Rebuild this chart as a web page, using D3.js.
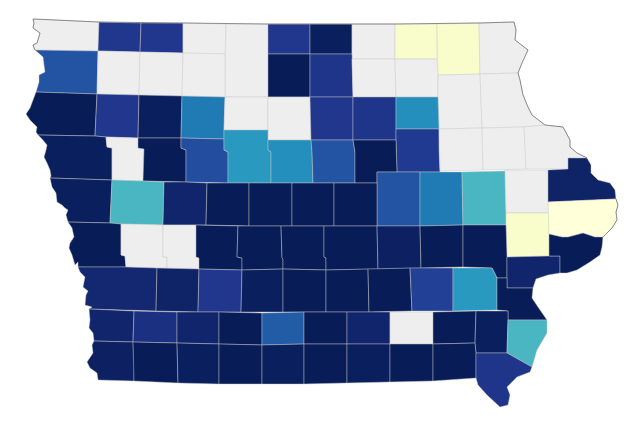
<!DOCTYPE html>
<html>
<head>
<meta charset="utf-8">
<title>Iowa counties</title>
<script src="https://cdn.jsdelivr.net/npm/d3@7"></script>
<style>
  html, body { margin: 0; padding: 0; background: #fff; }
  svg { display: block; }
</style>
</head>
<body>
<svg id="map" width="640" height="428"></svg>
<script>
// County names, listed row by row from the north-west corner
var counties = [
  "Lyon", "Osceola", "Dickinson", "Emmet", "Kossuth", "Winnebago", "Worth", "Mitchell", "Howard", "Winneshiek", "Allamakee",
  "Sioux", "O'Brien", "Clay", "Palo Alto", "Hancock", "Cerro Gordo", "Floyd", "Chickasaw", "Fayette", "Clayton",
  "Plymouth", "Cherokee", "Buena Vista", "Pocahontas", "Humboldt", "Wright", "Franklin", "Butler", "Bremer", "Black Hawk", "Buchanan", "Delaware", "Dubuque",
  "Woodbury", "Ida", "Sac", "Calhoun", "Webster", "Hamilton", "Hardin", "Grundy", "Tama", "Benton", "Linn", "Jones", "Jackson",
  "Monona", "Crawford", "Carroll", "Greene", "Boone", "Story", "Marshall", "Cedar", "Clinton",
  "Harrison", "Shelby", "Audubon", "Guthrie", "Dallas", "Polk", "Jasper", "Poweshiek", "Iowa", "Johnson", "Muscatine", "Scott",
  "Pottawattamie", "Cass", "Adair", "Madison", "Warren", "Marion", "Mahaska", "Keokuk", "Washington", "Louisa",
  "Mills", "Montgomery", "Adams", "Union", "Clarke", "Lucas", "Monroe", "Wapello", "Jefferson", "Henry", "Des Moines",
  "Fremont", "Page", "Taylor", "Ringgold", "Decatur", "Wayne", "Appanoose", "Davis", "Van Buren", "Lee"
];

// Values, same order as counties (null = no data)
var values = [
  null, 84, 84, null, null, 84, 95, null, 4, 4, null,
  75, null, null, null, 97, 85, null, null, null, null,
  100, 84, 95, 65, null, null, 84, 85, 60, 83, null, null, null,
  95, null, 98, 77, 57, 60, 75, 97, 75, 65, 47, null, 93,
  95, 47, 92, 98, 97, 97, 97, 4, 0,
  96, null, null, 98, 98, 96, 96, 94, 98, 98, 92, 100,
  91, 93, 84, 95, 96, 98, 98, 81, 57, 96,
  92, 87, 92, 99, 73, 98, 92, null, 99, 95, 47,
  94, 96, 95, 96, 95, 96, 95, 96, 96, 85
];

// County outlines in map units
var shapes = {
  "Lyon": [[33,19],[99,22],[98,51],[35,50],[33,45],[37,43],[40,33],[33,28],[34,23]],
  "Osceola": [[99,22],[141,23],[140,52],[98,51]],
  "Dickinson": [[141,23],[183,23],[183,53],[140,52]],
  "Emmet": [[183,23],[226,24],[225,54],[183,53]],
  "Kossuth": [[226,24],[268,24],[268,97],[225,97]],
  "Winnebago": [[268,24],[310,24],[310,54],[268,54]],
  "Worth": [[310,24],[352,24],[352,54],[310,54]],
  "Mitchell": [[352,24],[395,24],[395,59],[352,59]],
  "Howard": [[395,24],[437,24],[437,59],[395,59]],
  "Winneshiek": [[437,24],[479,23],[480,74],[438,75]],
  "Allamakee": [[479,23],[514,22],[516,30],[515,40],[528,50],[522,63],[518,73],[480,74]],
  "Sioux": [[35,50],[98,51],[97,94],[36,92],[39,82],[39,75],[45,72],[44,65],[43,57]],
  "O'Brien": [[98,51],[140,52],[139,95],[97,94]],
  "Clay": [[140,52],[183,53],[182,96],[139,95]],
  "Palo Alto": [[183,53],[225,54],[225,97],[182,96]],
  "Hancock": [[268,54],[310,54],[310,97],[268,97]],
  "Cerro Gordo": [[310,54],[352,54],[353,97],[310,97]],
  "Floyd": [[352,59],[395,59],[396,97],[353,97]],
  "Chickasaw": [[395,59],[437,59],[438,75],[438,97],[396,97]],
  "Fayette": [[438,75],[480,74],[482,128],[439,129],[438,97]],
  "Clayton": [[480,74],[518,73],[520,80],[523,95],[528,107],[532,115],[545,125],[524,127],[482,128]],
  "Plymouth": [[36,92],[97,94],[95,136],[38,135],[36,132],[37,127],[30,120],[26,114],[30,108],[33,100]],
  "Cherokee": [[97,94],[139,95],[138,138],[106,137],[95,136]],
  "Buena Vista": [[139,95],[182,96],[181,138],[138,138]],
  "Pocahontas": [[182,96],[225,97],[224,130],[224,139],[181,138]],
  "Humboldt": [[225,97],[268,97],[268,130],[224,130]],
  "Wright": [[268,97],[310,97],[311,140],[268,140],[268,130]],
  "Franklin": [[310,97],[353,97],[353,140],[311,140]],
  "Butler": [[353,97],[396,97],[396,129],[396,140],[353,140]],
  "Bremer": [[396,97],[438,97],[439,129],[396,129]],
  "Black Hawk": [[396,129],[439,129],[439,150],[440,172],[397,172],[396,140]],
  "Buchanan": [[439,129],[482,128],[483,170],[440,171]],
  "Delaware": [[482,128],[524,127],[525,140],[526,169],[483,170]],
  "Dubuque": [[524,127],[545,125],[563,127],[570,140],[570,147],[577,153],[587,158],[568,158],[568,169],[526,169]],
  "Woodbury": [[38,135],[95,136],[106,137],[107,147],[112,148],[112,180],[50,178],[51,176],[50,170],[47,163],[44,157],[46,150],[47,145],[42,139]],
  "Ida": [[106,137],[138,138],[138,148],[144,149],[143,181],[112,180],[112,148],[107,147]],
  "Sac": [[138,138],[181,138],[181,148],[186,150],[186,182],[143,181],[144,149],[138,148]],
  "Calhoun": [[181,138],[224,139],[224,150],[228,152],[228,183],[186,182],[186,150],[181,148]],
  "Webster": [[224,130],[268,130],[268,140],[268,150],[271,152],[271,183],[228,183],[228,152],[224,150]],
  "Hamilton": [[268,140],[311,140],[312,152],[313,183],[271,183],[271,152],[268,150]],
  "Hardin": [[311,140],[353,140],[355,152],[355,183],[313,183],[312,152]],
  "Grundy": [[353,140],[396,140],[397,172],[377,172],[377,183],[355,183],[355,152]],
  "Tama": [[377,172],[420,172],[420,226],[377,226]],
  "Benton": [[420,172],[462,172],[463,225],[420,226]],
  "Linn": [[462,172],[505,171],[506,213],[506,225],[463,225]],
  "Jones": [[505,170],[548,170],[548,202],[549,213],[506,213]],
  "Jackson": [[548,170],[568,169],[568,158],[587,158],[591,165],[591,173],[598,180],[610,183],[615,190],[616,199],[548,202]],
  "Monona": [[50,178],[112,180],[110,223],[68,222],[66,215],[68,210],[65,208],[62,205],[57,202],[56,193],[52,187]],
  "Crawford": [[112,180],[143,181],[164,182],[163,225],[121,224],[110,223]],
  "Carroll": [[164,182],[186,182],[207,183],[206,225],[163,225]],
  "Greene": [[207,183],[249,183],[249,226],[206,225]],
  "Boone": [[249,183],[292,183],[292,226],[249,226]],
  "Story": [[292,183],[334,183],[334,226],[292,226]],
  "Marshall": [[334,183],[377,183],[377,226],[334,226]],
  "Cedar": [[506,213],[549,213],[549,234],[549,256],[507,257],[506,225]],
  "Clinton": [[548,202],[616,199],[618,205],[616,212],[617,220],[612,228],[603,237],[595,237],[583,233],[568,237],[562,237],[549,234]],
  "Harrison": [[68,222],[110,223],[121,224],[121,255],[125,256],[126,267],[78,267],[78,262],[75,265],[72,255],[69,248],[70,243],[74,237],[72,228]],
  "Shelby": [[121,224],[163,225],[163,257],[167,257],[167,268],[126,267],[125,256],[121,255]],
  "Audubon": [[163,225],[196,225],[196,257],[199,258],[199,269],[167,268],[167,257],[163,257]],
  "Guthrie": [[196,225],[238,226],[237,257],[242,258],[242,270],[199,269],[199,258],[196,257]],
  "Dallas": [[238,226],[281,226],[282,258],[283,259],[283,269],[242,270],[242,258],[237,257]],
  "Polk": [[281,226],[324,226],[324,257],[326,258],[326,270],[283,269],[283,259],[282,258]],
  "Jasper": [[324,226],[377,226],[378,269],[326,270],[326,258],[324,257]],
  "Poweshiek": [[377,226],[420,226],[421,268],[378,269]],
  "Iowa": [[420,226],[463,225],[463,267],[421,268]],
  "Johnson": [[463,225],[506,225],[507,257],[507,278],[497,278],[492,268],[463,267]],
  "Muscatine": [[507,257],[549,256],[560,256],[560,273],[548,275],[536,279],[533,288],[507,288]],
  "Scott": [[549,234],[562,237],[568,237],[583,233],[595,237],[603,237],[602,247],[600,255],[590,262],[577,270],[567,273],[560,273],[560,256],[549,256]],
  "Pottawattamie": [[78,267],[126,267],[157,268],[156,311],[89,309],[92,307],[85,305],[86,295],[88,291],[83,287],[85,277],[80,272]],
  "Cass": [[157,268],[199,269],[198,312],[156,311]],
  "Adair": [[199,269],[242,270],[241,312],[198,312]],
  "Madison": [[242,270],[283,269],[283,312],[241,312]],
  "Warren": [[283,269],[326,270],[326,312],[283,312]],
  "Marion": [[326,270],[368,269],[369,312],[326,312]],
  "Mahaska": [[368,269],[410,268],[412,311],[369,312]],
  "Keokuk": [[410,268],[453,268],[453,311],[412,311]],
  "Washington": [[453,268],[492,268],[497,278],[497,310],[453,311]],
  "Louisa": [[497,278],[507,278],[507,288],[533,288],[532,298],[538,307],[547,320],[508,320],[508,311],[497,310]],
  "Mills": [[89,309],[134,311],[133,342],[94,341],[93,333],[89,328],[90,320]],
  "Montgomery": [[134,311],[177,312],[177,343],[133,342]],
  "Adams": [[177,312],[219,312],[219,344],[177,343]],
  "Union": [[219,312],[262,313],[262,345],[219,344]],
  "Clarke": [[262,313],[304,312],[304,344],[262,345]],
  "Lucas": [[304,312],[347,312],[347,344],[304,344]],
  "Monroe": [[347,312],[390,312],[390,344],[347,344]],
  "Wapello": [[390,312],[433,312],[433,344],[390,344]],
  "Jefferson": [[433,312],[476,311],[475,343],[433,344]],
  "Henry": [[476,311],[508,311],[508,320],[507,353],[476,353],[475,343]],
  "Des Moines": [[508,320],[547,320],[547,333],[537,350],[532,367],[507,353]],
  "Fremont": [[94,341],[133,342],[134,363],[134,381],[98,380],[97,373],[90,368],[87,362],[93,353],[92,345]],
  "Page": [[133,342],[177,343],[178,383],[134,381]],
  "Taylor": [[177,343],[219,344],[219,384],[178,383]],
  "Ringgold": [[219,344],[262,345],[262,384],[219,384]],
  "Decatur": [[262,345],[304,344],[304,384],[262,384]],
  "Wayne": [[304,344],[347,344],[347,383],[304,384]],
  "Appanoose": [[347,344],[390,344],[390,382],[347,383]],
  "Davis": [[390,344],[433,344],[433,381],[390,382]],
  "Van Buren": [[433,344],[475,343],[476,353],[476,378],[433,381]],
  "Lee": [[476,353],[507,353],[532,367],[530,372],[517,377],[507,387],[510,395],[508,405],[500,407],[487,395],[478,385],[476,378]]
};

// Outside edge of the state, north and east side
var northEastEdge = [
  [34,23],[33,19],[99,22],[183,23],[268,24],[395,24],[479,23],[514,22],[516,30],[515,40],[528,50],[522,63],[518,73],[520,80],[523,95],
  [528,107],[532,115],[545,125],[563,127],[570,140],[570,147],[577,153],[587,158]
];
var clintonEdge = [[616,199],[618,205],[616,212],[617,220],[612,228],[603,237]];
var lyonEdge = [[34,23],[33,28],[40,33],[37,43],[33,45],[35,50]];

// Colour scale for the counties
var color = d3.scaleSequential(d3.interpolateYlGnBu).domain([0, 96]).clamp(true);
var noData = "#eeeeee";

// Rings have to be closed for geoPath
var features = counties.map((name, i) => ({
  type: "Feature",
  properties: {name: name, value: values[i]},
  geometry: {type: "Polygon", coordinates: [shapes[name].concat([shapes[name][0]])]}
}));

var path = d3.geoPath(d3.geoIdentity());
var svg = d3.select("#map");

// Draw the counties
svg.append("g")
  .selectAll("path")
  .data(features)
  .join("path")
  .attr("d", path)
  .attr("fill", d => d.properties.value === null ? noData : color(d.properties.value))
  .attr("stroke", "#c8c8c8")
  .attr("stroke-opacity", 0.55)
  .attr("stroke-width", 0.8)
  .attr("stroke-linejoin", "round")
  .append("title")
  .text(d => d.properties.name);

// Draw the darker part of the state border on top
svg.append("path")
  .datum({type: "MultiLineString", coordinates: [northEastEdge, clintonEdge, lyonEdge]})
  .attr("d", path)
  .attr("fill", "none")
  .attr("stroke", "#808080")
  .attr("stroke-width", 0.9)
  .attr("stroke-linejoin", "round");
</script>
</body>
</html>
